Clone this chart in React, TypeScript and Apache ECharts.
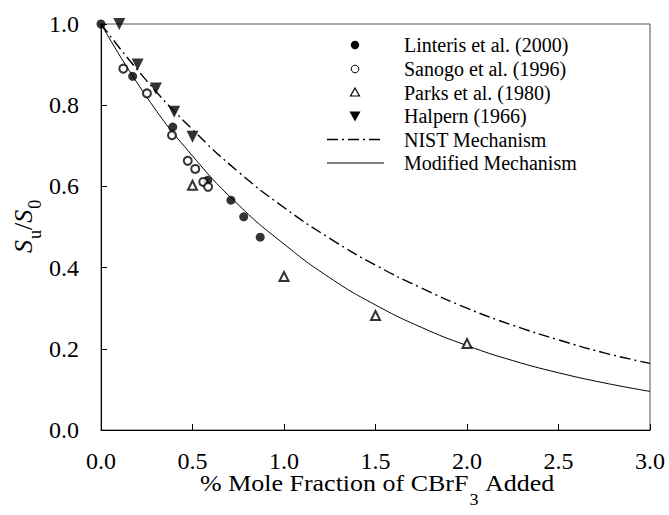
import React, { useEffect, useRef } from 'react';
import * as echarts from 'echarts';

const linterisX = [0, 0.173, 0.392, 0.583, 0.71, 0.78, 0.87];
const linterisY = [1.0, 0.871, 0.746, 0.615, 0.566, 0.525, 0.475];
const sanogoX = [0.122, 0.251, 0.388, 0.474, 0.515, 0.559, 0.585];
const sanogoY = [0.89, 0.829, 0.726, 0.663, 0.643, 0.611, 0.599];
const parksX = [0.5, 1.0, 1.5, 2.0];
const parksY = [0.603, 0.378, 0.282, 0.213];
const halpernX = [0.1, 0.2, 0.3, 0.4, 0.5];
const halpernY = [1.0, 0.9, 0.841, 0.784, 0.722];
const curveX = [0, 0.25, 0.5, 0.75, 1.0, 1.25, 1.5, 1.75, 2.0, 2.25, 2.5, 2.75, 3.0];
const nistY = [1.0, 0.86, 0.74, 0.636, 0.548, 0.472, 0.406, 0.35, 0.3, 0.258, 0.222, 0.19, 0.164];
const modifiedY = [1.0, 0.82, 0.675, 0.555, 0.458, 0.375, 0.308, 0.253, 0.208, 0.171, 0.141, 0.116, 0.095];
const legendNames = [
  'Linteris et al. (2000)',
  'Sanogo et al. (1996)',
  'Parks et al. (1980)',
  'Halpern (1966)',
  'NIST Mechanism',
  'Modified Mechanism',
];
const xTitleParts = ['% Mole Fraction of CBrF', '3', 'Added'];
const yTitleParts = ['S', 'u', '/', 'S', '0'];

const FONT = "'Liberation Serif', 'Times New Roman', serif";

const zip = (xs: number[], ys: number[]) => xs.map((x, i) => [x, ys[i]]);

let ctx: CanvasRenderingContext2D | null = null;
function measure(text: string, font: string) {
  if (!ctx) ctx = document.createElement('canvas').getContext('2d');
  if (!ctx) return text.length * 10;
  ctx.font = font;
  return ctx.measureText(text).width;
}

function legendGraphics() {
  const rowY = [45, 69, 92.5, 116, 139.5, 163];
  const cx = 355;
  const els: any[] = [];
  els.push({ type: 'circle', shape: { cx, cy: rowY[0], r: 4.2 }, style: { fill: '#000' } });
  els.push({ type: 'circle', shape: { cx, cy: rowY[1], r: 3.8 }, style: { fill: '#fff', stroke: '#000', lineWidth: 1 } });
  els.push({
    type: 'polygon',
    shape: { points: [[cx, rowY[2] - 4.5], [cx + 4.5, rowY[2] + 3.5], [cx - 4.5, rowY[2] + 3.5]] },
    style: { fill: '#fff', stroke: '#000', lineWidth: 1.2 },
  });
  els.push({
    type: 'polygon',
    shape: { points: [[cx - 5.5, rowY[3] - 4.5], [cx + 5.5, rowY[3] - 4.5], [cx, rowY[3] + 5.5]] },
    style: { fill: '#000' },
  });
  els.push({
    type: 'line',
    shape: { x1: 327, y1: rowY[4], x2: 384, y2: rowY[4] },
    style: { stroke: '#000', lineWidth: 1.4, lineDash: [11, 4, 2, 4] },
  });
  els.push({
    type: 'line',
    shape: { x1: 327, y1: rowY[5], x2: 384, y2: rowY[5] },
    style: { stroke: '#000', lineWidth: 1 },
  });
  legendNames.forEach((n, i) => {
    els.push({
      type: 'text',
      x: 404,
      y: rowY[i],
      style: { text: n, fill: '#000', font: `20px ${FONT}`, align: 'left', verticalAlign: 'middle' },
    });
  });
  return els;
}

function titleGraphics() {
  const els: any[] = [];
  const mainFont = `23px ${FONT}`;
  const subFont = `16px ${FONT}`;
  const sx = 1.13;
  const w1 = measure(xTitleParts[0], mainFont) * sx;
  const w2 = measure(xTitleParts[1], subFont) * sx;
  const wSpace = measure(' ', mainFont) * sx;
  let x = 200;
  els.push({
    type: 'text', x, y: 483, scaleX: sx,
    style: { text: xTitleParts[0], fill: '#000', font: mainFont, align: 'left', verticalAlign: 'middle' },
  });
  x += w1 + 1;
  els.push({
    type: 'text', x, y: 500, scaleX: sx,
    style: { text: xTitleParts[1], fill: '#000', font: subFont, align: 'left', verticalAlign: 'middle' },
  });
  x += w2 + wSpace;
  els.push({
    type: 'text', x, y: 483, scaleX: sx,
    style: { text: xTitleParts[2], fill: '#000', font: mainFont, align: 'left', verticalAlign: 'middle' },
  });

  const iFont = `italic 26px ${FONT}`;
  const nFont = `26px ${FONT}`;
  const sFont = `18px ${FONT}`;
  const fonts = [iFont, sFont, nFont, iFont, sFont];
  const offs = [0, 12, 0, 0, 12];
  const children: any[] = [];
  let lx = 0;
  yTitleParts.forEach((t, i) => {
    children.push({
      type: 'text', x: lx, y: offs[i],
      style: { text: t, fill: '#000', font: fonts[i], align: 'left', verticalAlign: 'middle' },
    });
    lx += measure(t, fonts[i]) + (i === 0 || i === 3 ? 1 : 0);
  });
  els.push({ type: 'group', x: 23, y: 253, rotation: Math.PI / 2, children });
  return els;
}

export default function App() {
  const ref = useRef<HTMLDivElement>(null);
  useEffect(() => {
    if (!ref.current) return;
    const chart = echarts.init(ref.current, null, { renderer: 'svg' });
    chart.setOption({
      animation: false,
      backgroundColor: '#fff',
      textStyle: { fontFamily: FONT, color: '#000' },
      grid: {
        left: 101,
        right: 19,
        top: 24,
        bottom: 85,
        show: true,
        borderColor: '#555',
        borderWidth: 1,
        containLabel: false,
        outerBoundsMode: 'none',
      },
      graphic: [...legendGraphics(), ...titleGraphics()],
      xAxis: {
        type: 'value',
        min: 0,
        max: 3,
        interval: 0.5,
        splitLine: { show: false },
        axisLine: { show: true, onZero: false, lineStyle: { color: '#000', width: 1 } },
        axisTick: { show: true, inside: true, length: 6, lineStyle: { color: '#000' } },
        axisLabel: {
          margin: 19,
          fontFamily: FONT,
          fontSize: 24,
          color: '#000',
          formatter: (v: number) => v.toFixed(1),
        },
      },
      yAxis: {
        type: 'value',
        min: 0,
        max: 1,
        interval: 0.2,
        splitLine: { show: false },
        axisLine: { show: true, onZero: false, lineStyle: { color: '#000', width: 1 } },
        axisTick: { show: true, inside: true, length: 6, lineStyle: { color: '#000' } },
        axisLabel: {
          margin: 22,
          fontFamily: FONT,
          fontSize: 24,
          color: '#000',
          formatter: (v: number) => v.toFixed(1),
        },
      },
      series: [
        {
          name: 'NIST Mechanism',
          type: 'line',
          data: zip(curveX, nistY),
          smooth: true,
          symbol: 'none',
          lineStyle: { color: '#000', width: 1.4, type: [11, 4, 2, 4] },
          itemStyle: { color: '#000' },
          z: 1,
        },
        {
          name: 'Modified Mechanism',
          type: 'line',
          data: zip(curveX, modifiedY),
          smooth: true,
          symbol: 'none',
          lineStyle: { color: '#000', width: 1 },
          itemStyle: { color: '#000' },
          z: 1,
        },
        {
          name: 'Linteris et al. (2000)',
          type: 'scatter',
          data: zip(linterisX, linterisY),
          symbol: 'circle',
          symbolSize: 9,
          itemStyle: { color: '#000' },
          z: 3,
        },
        {
          name: 'Sanogo et al. (1996)',
          type: 'scatter',
          data: zip(sanogoX, sanogoY),
          symbol: 'emptyCircle',
          symbolSize: 8,
          itemStyle: { color: '#000', borderColor: '#000', borderWidth: 1 },
          z: 3,
        },
        {
          name: 'Parks et al. (1980)',
          type: 'scatter',
          data: zip(parksX, parksY),
          symbol: 'emptyTriangle',
          symbolSize: 9,
          itemStyle: { color: '#000', borderColor: '#000', borderWidth: 1.2 },
          z: 3,
        },
        {
          name: 'Halpern (1966)',
          type: 'scatter',
          data: zip(halpernX, halpernY),
          symbol: 'triangle',
          symbolRotate: 180,
          symbolSize: 12,
          itemStyle: { color: '#000' },
          z: 3,
        },
      ],
    });
    return () => chart.dispose();
  }, []);
  return <div ref={ref} style={{ width: 669, height: 515, position: 'absolute', left: 0, top: 0 }} />;
}
